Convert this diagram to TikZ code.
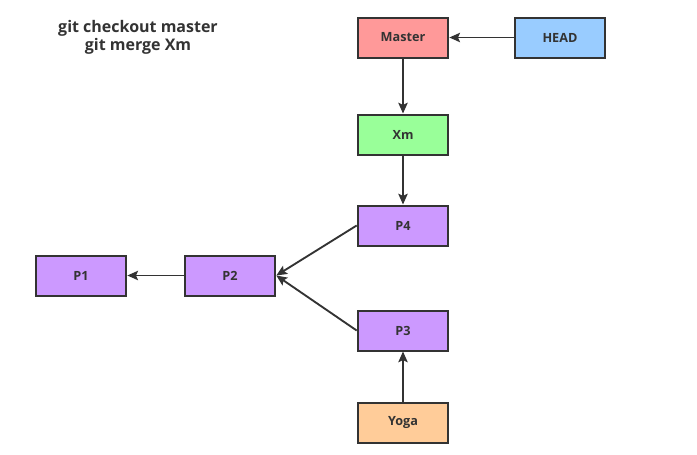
\documentclass[tikz,border=0pt]{standalone}
\usepackage{fontspec}
\setmainfont{Open Sans}
\usepackage{tikz}
\usetikzlibrary{calc,positioning,arrows,arrows.meta}
\definecolor{txtgray}{HTML}{333333}
\definecolor{mastercol}{HTML}{FF9999}
\definecolor{headcol}{HTML}{99CCFF}
\definecolor{xmcol}{HTML}{99FF99}
\definecolor{pcol}{HTML}{CC99FF}
\definecolor{yogacol}{HTML}{FFCC99}

\begin{document}
\begin{tikzpicture}[x=0.75pt, y=-0.75pt,
  box/.style = {draw = txtgray, line width = 1.5pt, minimum width = 68pt, minimum height = 30pt, inner sep = 0pt, text = txtgray, font = \bfseries\fontsize{9.5}{11}\selectfont},
  arr/.style = {-{Stealth[length=8pt, width=7pt, inset=1.5pt]}, draw = txtgray, line width = 1.4pt}]
\useasboundingbox (0,0) rectangle (697,454);

\node[text = txtgray, font = \bfseries\fontsize{12}{13.5}\selectfont, align = center] (cmd) at (138,37) {git checkout master\\git merge Xm};

\node[box, fill = mastercol] (master) at (403,37.5) {Master};
\node[box, fill = headcol] (head) at (560,37.5) {HEAD};
\node[box, fill = xmcol] (xm) at (403,134.5) {Xm};
\foreach \n/\lbl/\x/\y in {p4/P4/403/225.5, p3/P3/403/330.5, p2/P2/230/275.5, p1/P1/81/275.5}{
  \node[box, fill = pcol] (\n) at (\x,\y) {\lbl};
}
\node[box, fill = yogacol] (yoga) at (403,422.5) {Yoga};

\draw[arr] (head) -- (master);
\draw[arr] (master) -- (xm);
\draw[arr] (xm) -- (p4);
\draw[arr] (p4.west) -- (p2.east);
\draw[arr] (p3.west) -- (p2.east);
\draw[arr] (p2) -- (p1);
\draw[arr] (yoga) -- (p3);

\end{tikzpicture}
\end{document}
